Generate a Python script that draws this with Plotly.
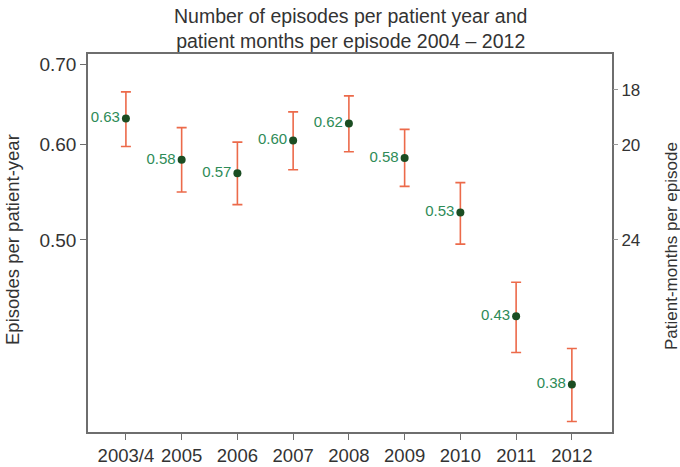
import math
import plotly.graph_objects as go

years = ["2003/4", "2005", "2006", "2007", "2008", "2009", "2010", "2011", "2012"]
rate = [0.631, 0.583, 0.568, 0.605, 0.625, 0.585, 0.527, 0.432, 0.379]
upper = [0.664, 0.620, 0.603, 0.639, 0.659, 0.618, 0.558, 0.461, 0.406]
lower = [0.598, 0.548, 0.535, 0.572, 0.592, 0.554, 0.496, 0.403, 0.353]
labels = ["0.63", "0.58", "0.57", "0.60", "0.62", "0.58", "0.53", "0.43", "0.38"]
left_ticks = [0.50, 0.60, 0.70]
left_text = ["0.50", "0.60", "0.70"]
right_months = [18, 20, 24]

xs = list(range(len(years)))
err_plus = [u - r for u, r in zip(upper, rate)]
err_minus = [r - l for r, l in zip(rate, lower)]

font = "Liberation Sans, Arial, sans-serif"
txt = "#333333"
fig = go.Figure()
fig.add_trace(go.Scatter(
    x=xs, y=rate, mode="markers+text",
    text=labels, textposition="middle left",
    textfont=dict(color="#2e8b57", size=15, family=font),
    marker=dict(color="#1b4d22", size=8),
    error_y=dict(type="data", symmetric=False, array=err_plus, arrayminus=err_minus,
                 color="#ec6a4a", thickness=1.6, width=5),
    cliponaxis=False, showlegend=False,
))
fig.add_trace(go.Scatter(x=[xs[0]], y=[rate[0]], yaxis="y2", mode="markers",
                         marker=dict(opacity=0), showlegend=False, hoverinfo="skip"))

yrange = [math.log10(0.346), math.log10(0.714)]
axcol = "#6e6e6e"
fig.update_layout(
    width=680, height=467,
    margin=dict(l=88, r=68, t=54, b=35, autoexpand=False),
    paper_bgcolor="white", plot_bgcolor="white",
    font=dict(family=font, size=19, color=txt),
    xaxis=dict(range=[-0.68, 8.72], tickmode="array", tickvals=xs, ticktext=years,
               showgrid=False, zeroline=False, showline=True, mirror=True,
               linecolor=axcol, linewidth=1.5, ticks="outside", ticklen=6,
               tickcolor=axcol, tickfont=dict(size=18.5, color=txt), automargin=False),
    yaxis=dict(type="log", range=yrange, tickmode="array", tickvals=left_ticks,
               ticktext=left_text, showgrid=False, zeroline=False, showline=True,
               mirror=True, linecolor=axcol, linewidth=1.5, ticks="outside",
               ticklen=6, tickcolor=axcol, tickfont=dict(size=19, color=txt),
               automargin=False),
    yaxis2=dict(type="log", range=yrange, overlaying="y", side="right",
                tickmode="array", tickvals=[12 / m for m in right_months],
                ticktext=[str(m) for m in right_months], showgrid=False,
                zeroline=False, showline=False, ticks="outside", ticklen=5,
                tickcolor="#999999", tickfont=dict(size=17, color=txt),
                automargin=False),
    annotations=[
        dict(text="Number of episodes per patient year and<br>patient months per episode 2004 \u2013 2012",
             xref="paper", yref="paper", x=0.5, y=(432 - 28.5) / 378,
             xanchor="center", yanchor="middle", showarrow=False,
             font=dict(size=19.5, color=txt)),
        dict(text="Episodes per patient-year", xref="paper", yref="paper",
             x=(12 - 88) / 524, y=(432 - 240) / 378, textangle=-90,
             xanchor="center", yanchor="middle", showarrow=False,
             font=dict(size=18.5, color=txt)),
        dict(text="Patient-months per episode", xref="paper", yref="paper",
             x=(671 - 88) / 524, y=(432 - 246) / 378, textangle=-90,
             xanchor="center", yanchor="middle", showarrow=False,
             font=dict(size=17, color=txt)),
    ],
)
fig.write_html("out.html", config={"displayModeBar": False},
               post_script="document.body.style.margin='0';document.body.style.padding='0';")
